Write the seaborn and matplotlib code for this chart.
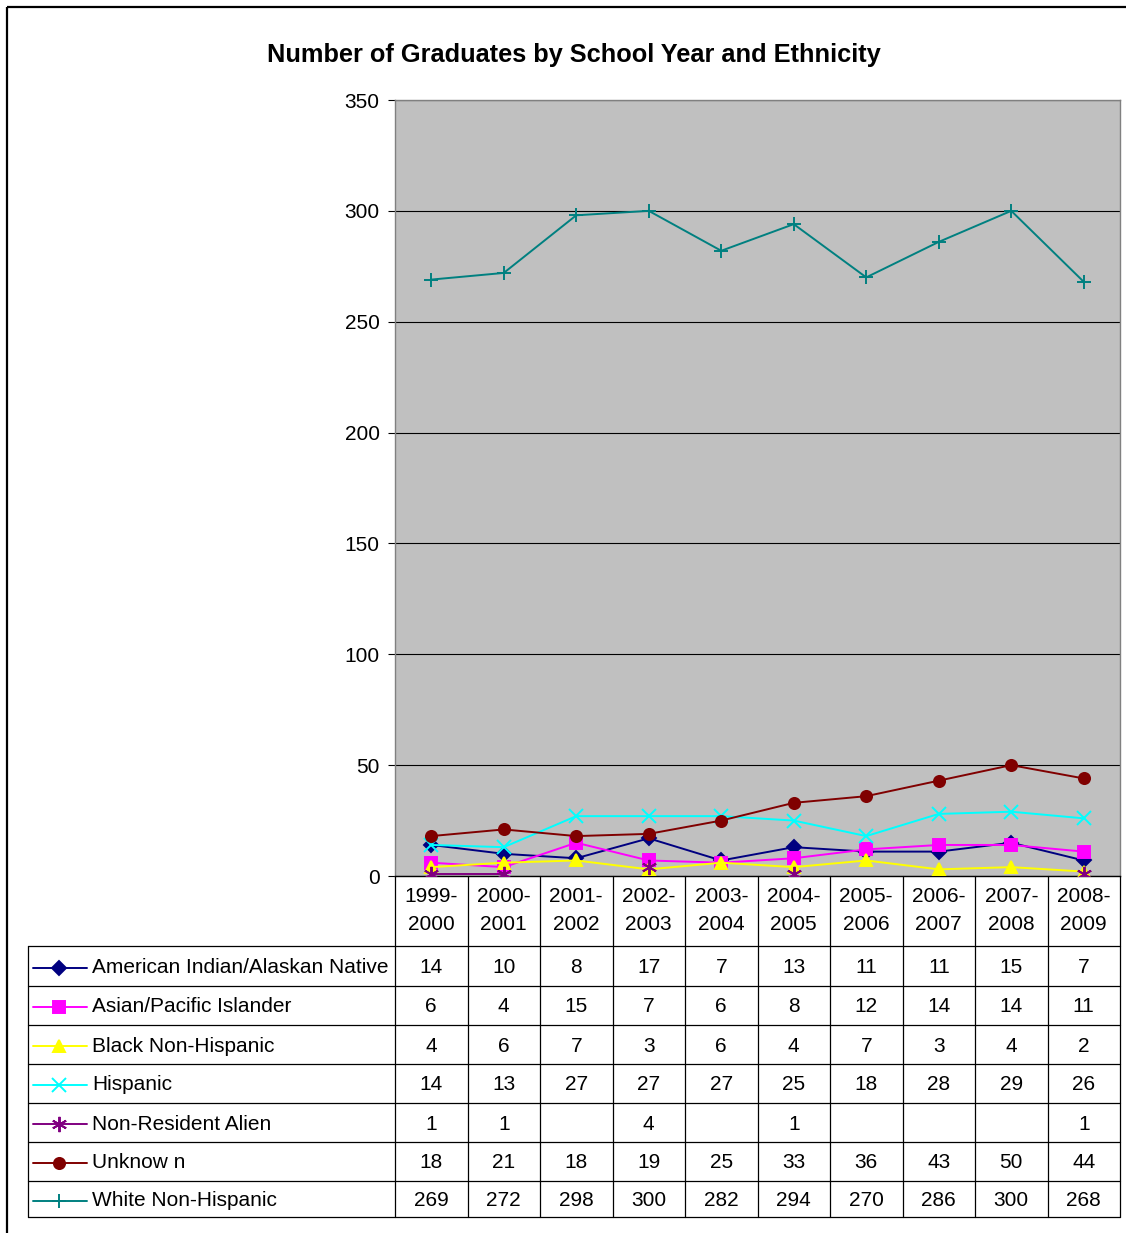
import numpy as np
import pandas as pd
import matplotlib
matplotlib.use("Agg")
import matplotlib.pyplot as plt
import seaborn as sns
from matplotlib.lines import Line2D
from matplotlib.patches import Rectangle

sns.set_theme(style="white")
plt.rcParams['font.family'] = ['Liberation Sans', 'DejaVu Sans']
plt.rcParams['text.color'] = 'black'
plt.rcParams['ytick.color'] = 'black'
plt.rcParams['ytick.labelcolor'] = 'black'

years = ["1999-\n2000", "2000-\n2001", "2001-\n2002", "2002-\n2003", "2003-\n2004",
         "2004-\n2005", "2005-\n2006", "2006-\n2007", "2007-\n2008", "2008-\n2009"]
series_names = ["American Indian/Alaskan Native", "Asian/Pacific Islander", "Black Non-Hispanic",
                "Hispanic", "Non-Resident Alien", "Unknow n", "White Non-Hispanic"]
american_indian = [14, 10, 8, 17, 7, 13, 11, 11, 15, 7]
asian_pacific = [6, 4, 15, 7, 6, 8, 12, 14, 14, 11]
black_non_hispanic = [4, 6, 7, 3, 6, 4, 7, 3, 4, 2]
hispanic = [14, 13, 27, 27, 27, 25, 18, 28, 29, 26]
non_resident_alien = [1, 1, None, 4, None, 1, None, None, None, 1]
unknown = [18, 21, 18, 19, 25, 33, 36, 43, 50, 44]
white_non_hispanic = [269, 272, 298, 300, 282, 294, 270, 286, 300, 268]
all_values = [american_indian, asian_pacific, black_non_hispanic, hispanic,
              non_resident_alien, unknown, white_non_hispanic]

colors = ["#000080", "#FF00FF", "#FFFF00", "#00FFFF", "#800080", "#800000", "#008080"]
markers = ["D", "s", "^", "x", (6, 2, 0), "o", "+"]
msizes = [7, 8, 9, 10, 11, 8, 10]

W, H = 1126, 1233
fig = plt.figure(figsize=(W / 100, H / 100), dpi=100)

def fx(px):
    return px / W

def fy(py):
    return 1 - py / H

# Main plot axes
L, R, T, B = 395, 1120, 100, 876
ax = fig.add_axes([fx(L), fy(B), fx(R - L), (B - T) / H])
ax.set_facecolor("#C0C0C0")

x_idx = np.arange(len(years))
for name, vals, c, m, ms in zip(series_names, all_values, colors, markers, msizes):
    v = np.array([np.nan if a is None else a for a in vals], dtype=float)
    # split into contiguous segments so gaps are not bridged
    seg = np.cumsum(np.isnan(v))
    df = pd.DataFrame({"x": x_idx, "v": v, "seg": seg}).dropna()
    for s, g in df.groupby("seg"):
        sns.lineplot(data=g, x="x", y="v", ax=ax, color=c, marker=m, markersize=ms,
                     markeredgecolor=c, markerfacecolor=c, markeredgewidth=1.4,
                     linewidth=1.4, legend=False, zorder=3)

ax.set_xlim(-0.5, len(years) - 0.5)
ax.set_ylim(0, 350)
ax.set_yticks(np.arange(0, 351, 50))
ax.yaxis.grid(True, color="black", linewidth=0.8)
ax.set_axisbelow(True)
ax.set_xticks([])
ax.set_xlabel("")
ax.set_ylabel("")
ax.tick_params(axis="y", which="both", left=True, length=5, width=0.8, color="black",
               labelcolor="black", labelsize=15, pad=6)
for sp in ["top", "right"]:
    ax.spines[sp].set_color("#808080")
    ax.spines[sp].set_linewidth(1)
ax.spines["left"].set_color("#808080")
ax.spines["bottom"].set_color("black")
ax.spines["left"].set_linewidth(1)
ax.spines["bottom"].set_linewidth(1)

# Title
fig.text(fx(574), fy(55), "Number of Graduates by School Year and Ethnicity",
         ha="center", va="center", fontsize=18.3, fontweight="bold", color="black")

# Overlay axes in pixel coords for table & frame
ov = fig.add_axes([0, 0, 1, 1], facecolor="none")
ov.set_xlim(0, W)
ov.set_ylim(H, 0)
ov.axis("off")

ov.add_patch(Rectangle((7, 7), W + 20, H + 20, fill=False, edgecolor="black", linewidth=1.6))

ncol = len(years)
colw = (R - L) / ncol
row_edges = [946, 986, 1025, 1064, 1103, 1142, 1181, 1217]
lc = "black"
lw = 0.9
# vertical column lines
for k in range(ncol + 1):
    xk = L + k * colw
    ov.plot([xk, xk], [B, row_edges[-1]], color=lc, linewidth=lw)
# label column border
ov.plot([28, 28], [row_edges[0], row_edges[-1]], color=lc, linewidth=lw)
for ye in row_edges:
    ov.plot([28, R], [ye, ye], color=lc, linewidth=lw)

# header labels
for k, yl in enumerate(years):
    ov.text(L + (k + 0.5) * colw, 910, yl, ha="center", va="center", fontsize=15,
            linespacing=1.6, color="black")

# rows
for i, (name, vals, c, m, ms) in enumerate(zip(series_names, all_values, colors, markers, msizes)):
    yc = (row_edges[i] + row_edges[i + 1]) / 2 + 1.5
    ov.add_line(Line2D([33, 87], [yc, yc], color=c, linewidth=1.4))
    ov.add_line(Line2D([59], [yc], color=c, marker=m, markersize=ms, markeredgecolor=c,
                       markerfacecolor=c, markeredgewidth=1.4, linestyle="none"))
    ov.text(92, yc, name, ha="left", va="center", fontsize=15, color="black")
    for k, v in enumerate(vals):
        if v is not None:
            ov.text(L + (k + 0.5) * colw, yc, str(v), ha="center", va="center", fontsize=15,
                    color="black")

fig.savefig("out.png", dpi=100)
